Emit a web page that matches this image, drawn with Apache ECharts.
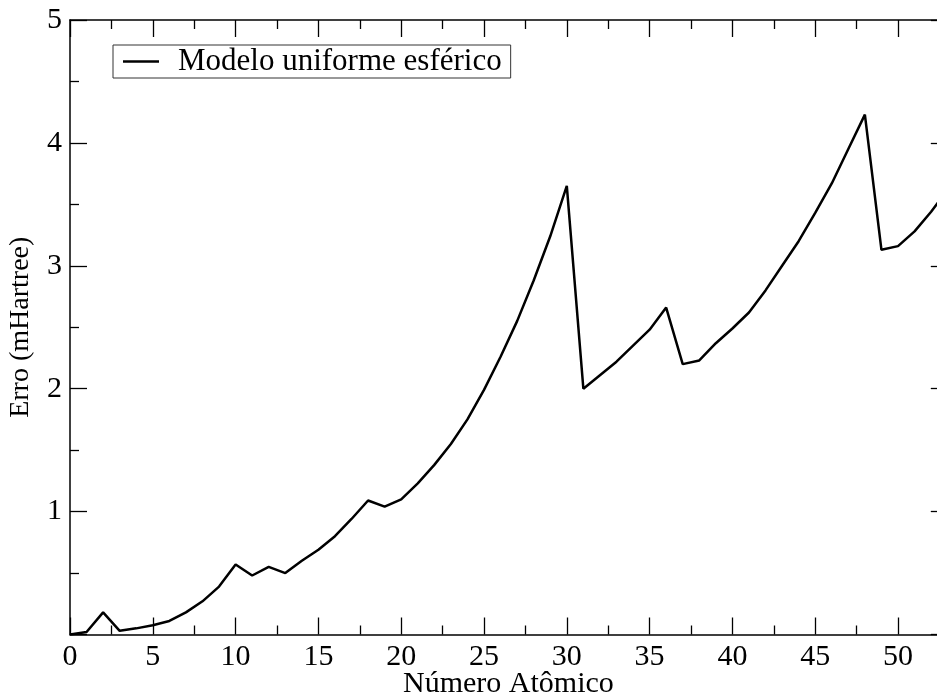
<!DOCTYPE html>
<html>
<head>
<meta charset="utf-8">
<script src="https://cdn.jsdelivr.net/npm/echarts@6/dist/echarts.min.js"></script>
<style>
  html, body { margin: 0; padding: 0; background: #fff; }
  #main { width: 937px; height: 697px; }
</style>
</head>
<body>
<div id="main"></div>
<script>
// número atômico
var numeroAtomico = [0, 1, 2, 3, 4, 5, 6, 7, 8, 9, 10, 11, 12, 13, 14, 15, 16, 17, 18, 19, 20,
    21, 22, 23, 24, 25, 26, 27, 28, 29, 30, 31, 32, 33, 34, 35, 36, 37, 38, 39, 40,
    41, 42, 43, 44, 45, 46, 47, 48, 49, 50, 51, 52, 53];
// erro (mHartree)
var erro = [0.0, 0.02, 0.18, 0.03, 0.05, 0.075, 0.11, 0.18, 0.27, 0.39, 0.57, 0.48, 0.55, 0.50, 0.60, 0.69,
    0.80, 0.94, 1.09, 1.04, 1.10, 1.23, 1.38, 1.55, 1.75, 1.99, 2.26, 2.55, 2.88, 3.24, 3.65,
    2.00, 2.11, 2.22, 2.35, 2.48, 2.66, 2.20, 2.23, 2.37, 2.49, 2.62, 2.80, 3.00, 3.20, 3.43,
    3.67, 3.95, 4.23, 3.13, 3.16, 3.28, 3.44, 3.62];
var nomeSerie = 'Modelo uniforme esférico';

var fonte = '"Liberation Serif", "DejaVu Serif", serif';

var chart = echarts.init(document.getElementById('main'));

var pontos = [];
for (let i = 0; i < numeroAtomico.length; i++) {
    pontos.push([numeroAtomico[i], erro[i]]);
}

var tickMaior = {show: true, inside: true, length: 17, lineStyle: {color: '#000', width: 1.3}};
var tickMenor = {show: true, splitNumber: 2, length: 9, lineStyle: {color: '#000', width: 1.3}};
var linhaEixo = {show: true, onZero: false, lineStyle: {color: '#000', width: 1.5}};

var option = {
    backgroundColor: '#fff',
    animation: false,
    // a área do gráfico passa da borda direita da janela (eixo x até 55)
    grid: {left: 70, top: 20, width: 910.8, height: 614.5, containLabel: false, outerBoundsMode: 'none'},
    legend: {
        show: true,
        left: 113,
        top: 45,
        padding: [1, 9, 1, 10],
        borderColor: '#333',
        borderWidth: 1,
        icon: 'rect',
        itemWidth: 36,
        itemHeight: 2.5,
        textStyle: {fontFamily: fonte, fontSize: 31, color: '#000', padding: [0, 0, 0, 14], lineHeight: 28},
        data: [nomeSerie]
    },
    xAxis: [
        {
            type: 'value',
            position: 'bottom',
            min: 0,
            max: 55,
            interval: 5,
            name: 'Número Atômico',
            nameLocation: 'middle',
            nameGap: 35,
            nameMoveOverlap: false,
            // deslocado para a esquerda: centro do eixo visível (0 a 53)
            nameTextStyle: {fontFamily: fonte, fontSize: 30, color: '#000', padding: [0, 34, 0, 0]},
            axisLine: linhaEixo,
            axisTick: tickMaior,
            minorTick: tickMenor,
            splitLine: {show: false},
            axisLabel: {
                fontFamily: fonte, fontSize: 30, color: '#000', margin: 8,
                formatter: function (v) { return v <= 50 ? String(v) : ''; }
            }
        },
        {
            type: 'value',
            position: 'top',
            min: 0,
            max: 55,
            interval: 5,
            axisLine: linhaEixo,
            axisTick: tickMaior,
            minorTick: tickMenor,
            splitLine: {show: false},
            axisLabel: {show: false}
        }
    ],
    yAxis: [
        {
            type: 'value',
            position: 'left',
            min: 0,
            max: 5,
            interval: 1,
            name: 'Erro (mHartree)',
            nameLocation: 'middle',
            nameGap: 35,
            nameMoveOverlap: false,
            nameTextStyle: {fontFamily: fonte, fontSize: 28, color: '#000'},
            axisLine: linhaEixo,
            axisTick: tickMaior,
            minorTick: tickMenor,
            splitLine: {show: false},
            axisLabel: {
                fontFamily: fonte, fontSize: 30, color: '#000', margin: 8,
                formatter: function (v) { return v === 0 ? '' : String(v); }
            }
        },
        {
            type: 'value',
            position: 'right',
            offset: -33,
            min: 0,
            max: 5,
            interval: 1,
            axisLine: linhaEixo,
            axisTick: tickMaior,
            minorTick: tickMenor,
            splitLine: {show: false},
            axisLabel: {show: false}
        }
    ],
    series: [
        {
            name: nomeSerie,
            type: 'line',
            xAxisIndex: 0,
            yAxisIndex: 0,
            data: pontos,
            showSymbol: false,
            symbol: 'none',
            lineStyle: {color: '#000', width: 2.5},
            itemStyle: {color: '#000'}
        }
    ]
};

chart.setOption(option);
</script>
</body>
</html>
